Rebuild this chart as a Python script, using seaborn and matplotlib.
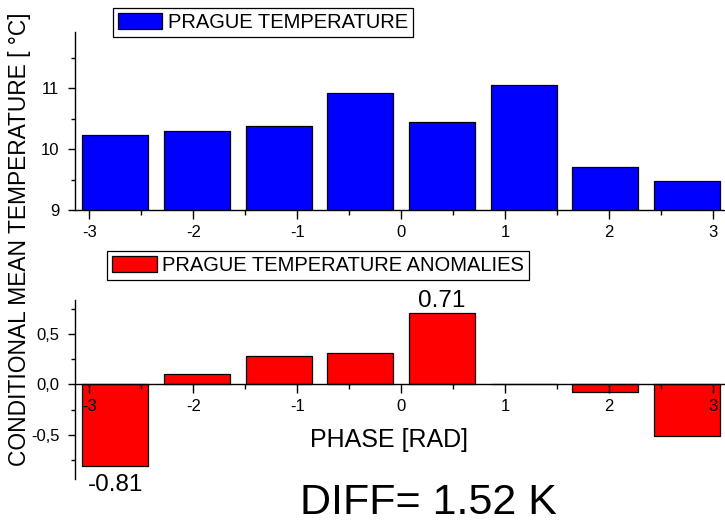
import numpy as np
import pandas as pd
import matplotlib
matplotlib.use('Agg')
import matplotlib.pyplot as plt
import seaborn as sns
from matplotlib.ticker import MultipleLocator

# ---- data ----
phase_centers = [-2.749, -1.963, -1.178, -0.393, 0.393, 1.178, 1.963, 2.749]
temperature = [10.24, 10.29, 10.38, 10.92, 10.45, 11.05, 9.70, 9.48]
anomalies = [-0.81, 0.10, 0.28, 0.31, 0.71, 0.005, -0.08, -0.51]
x_ticks = [-3, -2, -1, 0, 1, 2, 3]
x_tick_labels = ['-3', '-2', '-1', '0', '1', '2', '3']
temp_ticks = [9, 10, 11]
temp_tick_labels = ['9', '10', '11']
anom_ticks = [-0.5, 0.0, 0.5]
anom_tick_labels = ['-0,5', '0,0', '0,5']
top_label = 'PRAGUE TEMPERATURE'
bottom_label = 'PRAGUE TEMPERATURE ANOMALIES'
y_label = 'CONDITIONAL MEAN TEMPERATURE [ °C]'
x_label = 'PHASE [RAD]'

sns.set_style('ticks')
plt.rcParams['font.family'] = ['Liberation Sans', 'DejaVu Sans']
plt.rcParams['text.color'] = 'black'
plt.rcParams['axes.labelcolor'] = 'black'
plt.rcParams['axes.edgecolor'] = 'black'
plt.rcParams['xtick.color'] = 'black'
plt.rcParams['ytick.color'] = 'black'
plt.rcParams['axes.axisbelow'] = False

W, H = 725, 523
fig = plt.figure(figsize=(W / 100, H / 100), dpi=100)


def frac(x0, y_top, x1, y_bot):
    return [x0 / W, 1 - y_bot / H, (x1 - x0) / W, (y_bot - y_top) / H]


ax1 = fig.add_axes(frac(74.6, 31.7, 728.0, 210.0))
ax2 = fig.add_axes(frac(74.6, 300.0, 728.0, 479.3))

df_t = pd.DataFrame({'phase': phase_centers, 'value': temperature})
df_a = pd.DataFrame({'phase': phase_centers, 'value': anomalies})

sns.barplot(data=df_t, x='phase', y='value', native_scale=True, color='#0000FF',
            saturation=1, edgecolor='black', linewidth=0.9, width=0.81,
            errorbar=None, label=top_label, ax=ax1)
sns.barplot(data=df_a, x='phase', y='value', native_scale=True, color='#FF0000',
            saturation=1, edgecolor='black', linewidth=0.9, width=0.81,
            errorbar=None, label=bottom_label, ax=ax2)

for ax in (ax1, ax2):
    ax.set_axisbelow(False)
    ax.set_xlim(-np.pi, np.pi)
    ax.set_xlabel('')
    ax.set_ylabel('')
    ax.spines['top'].set_visible(False)
    ax.spines['right'].set_visible(False)
    for s in ('left', 'bottom'):
        ax.spines[s].set_linewidth(1.0)
        ax.spines[s].set_color('black')
        ax.spines[s].set_zorder(3)
    ax.set_xticks(x_ticks, x_tick_labels)
    ax.xaxis.set_minor_locator(MultipleLocator(0.5))
    ax.tick_params(axis='x', which='major', direction='out', length=6.3, width=1.0,
                   labelsize=12, pad=4.5, colors='black')
    ax.tick_params(axis='x', which='minor', direction='out', length=3.4, width=1.0,
                   colors='black')
    ax.tick_params(axis='y', which='major', direction='out', length=5, width=1.0,
                   labelsize=12, pad=6, colors='black')
    ax.tick_params(axis='y', which='minor', direction='out', length=3, width=1.0,
                   colors='black')
    ax.set_facecolor('none')

ax1.set_ylim(9, 11.93)
ax1.set_yticks(temp_ticks, temp_tick_labels)
ax1.yaxis.set_minor_locator(MultipleLocator(0.5))

ax2.set_ylim(-0.9406, 0.835)
ax2.set_yticks(anom_ticks, anom_tick_labels)
ax2.yaxis.set_minor_locator(MultipleLocator(0.25))
ax2.spines['bottom'].set_position(('data', 0))

leg_kw = dict(loc='upper left', bbox_transform=fig.transFigure, borderaxespad=0,
              fontsize=14.5, frameon=True, fancybox=False, shadow=False,
              framealpha=1, edgecolor='black', borderpad=0.25, handlelength=2.2,
              handleheight=0.85, handletextpad=0.28)
leg1 = ax1.legend(bbox_to_anchor=(112.7 / W, 1 - 8 / H), **leg_kw)
leg2 = ax2.legend(bbox_to_anchor=(107.3 / W, 1 - 251 / H), **leg_kw)
for lg in (leg1, leg2):
    lg.get_frame().set_linewidth(0.9)
    lg.set_zorder(5)

imax = int(np.argmax(anomalies))
imin = int(np.argmin(anomalies))
ax2.annotate(f'{anomalies[imax]:.2f}', xy=(phase_centers[imax], anomalies[imax]),
             xytext=(0, 0.5), textcoords='offset points', ha='center', va='bottom',
             fontsize=17.5, color='black')
ax2.annotate(f'{anomalies[imin]:.2f}', xy=(phase_centers[imin], anomalies[imin]),
             xytext=(0, -6), textcoords='offset points', ha='center', va='top',
             fontsize=17.5, color='black', annotation_clip=False)

ax2.set_xlabel(x_label, fontsize=18, color='black')
ax2.xaxis.set_label_coords(389 / W, 1 - 428 / H, transform=fig.transFigure)

diff = max(anomalies) - min(anomalies)
fig.text(428 / W, 1 - 514 / H, f'DIFF= {diff:.2f} K', ha='center', va='baseline',
         fontsize=31, color='black')

fig.text(20 / W, 1 - 239 / H, y_label, rotation=90, ha='center', va='center',
         fontsize=16.4, color='black')

fig.savefig('out.png', dpi=100)
